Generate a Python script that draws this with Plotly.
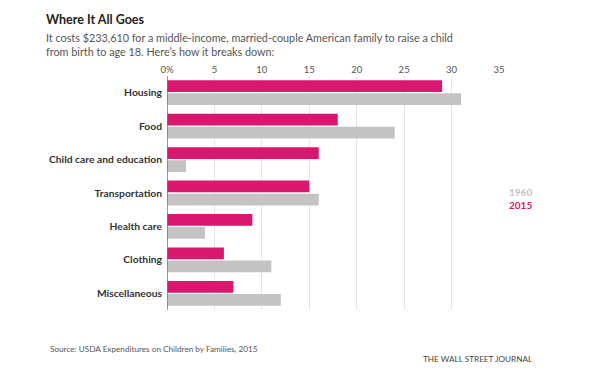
import plotly.graph_objects as go

categories = ["Housing", "Food", "Child care and education", "Transportation",
              "Health care", "Clothing", "Miscellaneous"]
values_2015 = [29, 18, 16, 15, 9, 6, 7]
values_1960 = [31, 24, 2, 16, 4, 11, 12]
tick_vals = [0, 5, 10, 15, 20, 25, 30, 35]
tick_text = ["0%", "5", "10", "15", "20", "25", "30", "35"]

PINK = "#d9176f"
GRAY = "#c3c3c3"
FONT = "Lato"

# page body has an 8px margin; plot area on page: x 167..499, y 76..310
OFF = 8
PL, PR, PT, PB = 167, 499, 76, 310
PW, PH = PR - PL, PB - PT


def px(x):
    return (x - PL) / PW


def py(y):
    return 1 - (y - PT) / PH


fig = go.Figure()
fig.add_trace(go.Bar(y=categories, x=values_2015, orientation="h", name="2015",
                     marker=dict(color=PINK, line=dict(width=0))))
fig.add_trace(go.Bar(y=categories, x=values_1960, orientation="h", name="1960",
                     marker=dict(color=GRAY, line=dict(width=0))))

fig.update_layout(
    width=596, height=378,
    margin=dict(l=PL - OFF, r=596 - PR + OFF, t=PT - OFF, b=378 - PB + OFF, autoexpand=False),
    paper_bgcolor="white", plot_bgcolor="white",
    barmode="group", bargap=0.22, bargroupgap=0.1,
    showlegend=False,
    font=dict(family=FONT, color="#333"),
    xaxis=dict(range=[0, 35], side="top", tickvals=tick_vals, ticktext=tick_text,
               showgrid=True, gridcolor="#e6e6e6", gridwidth=1, zeroline=False,
               showline=False, ticks="", tickfont=dict(size=9.5, color="#555", family=FONT)),
    yaxis=dict(autorange="reversed", showgrid=False, zeroline=False,
               showline=False, ticks="", ticklabelstandoff=4,
               tickfont=dict(size=10.3, color="#333", family=FONT, weight="bold")),
)

# axis line at zero
fig.add_shape(type="line", xref="x", yref="paper", x0=0, x1=0, y0=0, y1=1,
              line=dict(color="#777", width=1.5))

fig.add_annotation(text="<b>Where It All Goes</b>", xref="paper", yref="paper",
                   x=px(44), y=py(20), xanchor="left", yanchor="middle",
                   showarrow=False, font=dict(size=12.5, color="#222", family=FONT))
fig.add_annotation(text="It costs $233,610 for a middle-income, married-couple American family to raise a child",
                   xref="paper", yref="paper", x=px(44), y=py(38),
                   xanchor="left", yanchor="middle", align="left", showarrow=False,
                   font=dict(size=10.8, color="#555", family=FONT))
fig.add_annotation(text="from birth to age 18. Here\u2019s how it breaks down:",
                   xref="paper", yref="paper", x=px(44), y=py(52),
                   xanchor="left", yanchor="middle", align="left", showarrow=False,
                   font=dict(size=10.8, color="#555", family=FONT))
fig.add_annotation(text="<b>1960</b>", xref="paper", yref="paper", x=px(507),
                   y=py(192), xanchor="left", yanchor="middle", showarrow=False,
                   font=dict(size=10, color=GRAY, family=FONT))
fig.add_annotation(text="<b>2015</b>", xref="paper", yref="paper", x=px(507),
                   y=py(205), xanchor="left", yanchor="middle", showarrow=False,
                   font=dict(size=10, color=PINK, family=FONT))
fig.add_annotation(text="Source: USDA Expenditures on Children by Families, 2015",
                   xref="paper", yref="paper", x=px(48), y=py(349),
                   xanchor="left", yanchor="middle", showarrow=False,
                   font=dict(size=8.2, color="#555", family=FONT))
fig.add_annotation(text="THE WALL STREET JOURNAL",
                   xref="paper", yref="paper", x=px(535), y=py(359),
                   xanchor="right", yanchor="middle", showarrow=False,
                   font=dict(size=8.2, color="#444", family=FONT))

fig.write_html("out.html")
